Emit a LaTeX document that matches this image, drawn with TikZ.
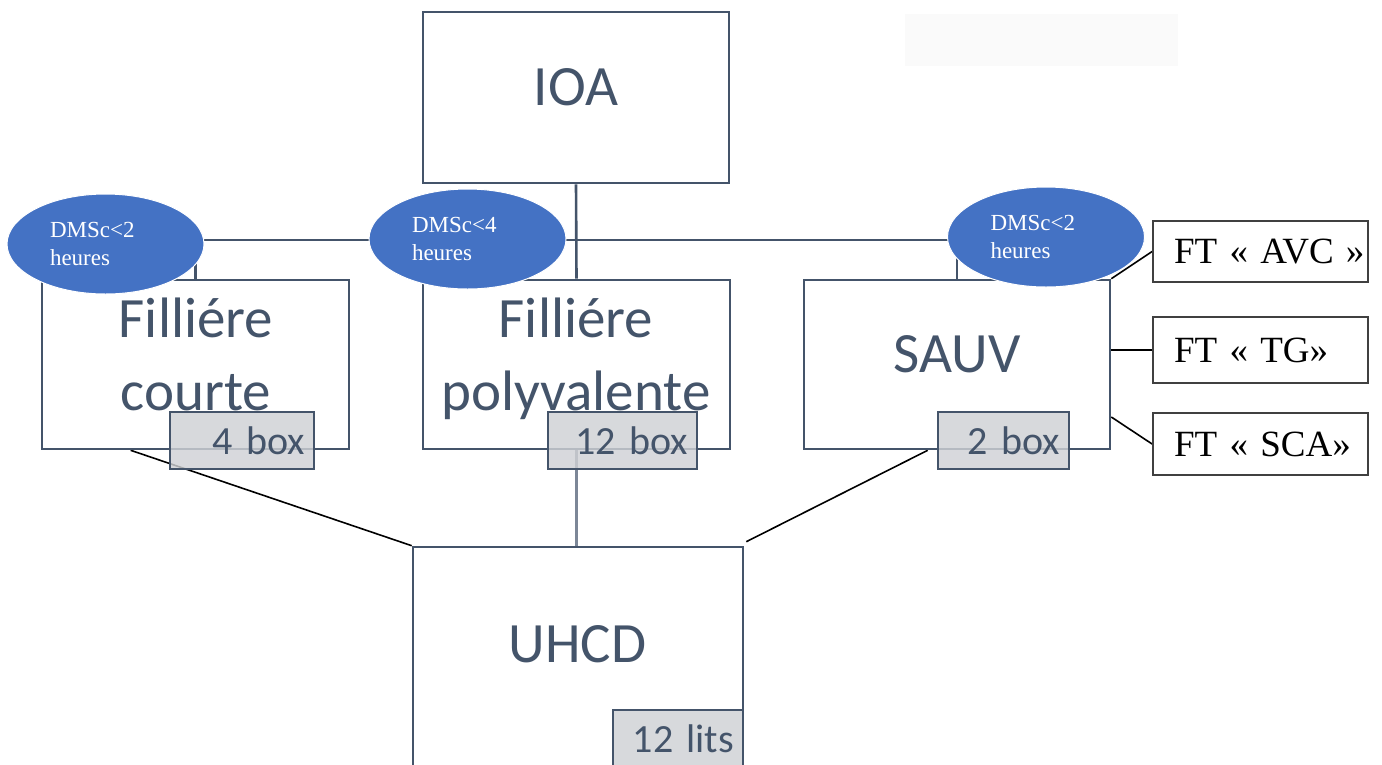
\documentclass[tikz,border=0pt]{standalone}
\usepackage{fontspec}
\setmainfont{Carlito}
\newfontfamily\timesfont{Liberation Serif}
\usepackage{tikz}
\usetikzlibrary{shapes.geometric,calc,backgrounds}
\usepackage{xcolor}
\definecolor{slate}{HTML}{44546A}
\definecolor{ovalblue}{HTML}{4472C4}
\definecolor{tagfill}{HTML}{CFD1D5}
\definecolor{ghost}{HTML}{FAFAFA}

\tikzset{
  unitbox/.style={draw=slate, line width=2.6pt, fill=white, inner sep=0pt},
  unittext/.style={text=slate, font=\fontsize{57}{73}\selectfont, align=center, text width=300pt, inner sep=0pt},
  tagbox/.style={draw=slate, line width=2.4pt, fill=tagfill, fill opacity=0.82, text opacity=1, text=slate,
    font=\fontsize{40}{48}\selectfont, align=right, minimum height=57pt, inner xsep=9pt, inner ysep=0pt},
  dmsoval/.style={ellipse, fill=ovalblue, draw=white, line width=1pt, text=white,
    font=\timesfont\fontsize{23}{28}\selectfont, minimum width=197pt, minimum height=100pt,
    align=left, text width=111pt, inner sep=0pt},
  ftbox/.style={draw=black!75, line width=1.8pt, fill=white, font=\timesfont\fontsize{37}{44}\selectfont,
    align=left, text width=173pt, inner xsep=21pt, inner ysep=0pt},
  bus/.style={draw=slate, line width=2.6pt},
  link/.style={draw=black, line width=1.6pt}
}

\begin{document}
\begin{tikzpicture}[x=1pt, y=-1pt]
  \useasboundingbox (0,0) rectangle (1382,764);
  \fill[ghost] (905,14) rectangle (1178,66);

  % units
  \node[unitbox, minimum width=306pt, minimum height=171pt] (ioa) at (576,97.5) {};
  \node[unitbox, minimum width=307pt, minimum height=169pt] (courte) at (195.5,364.5) {};
  \node[unitbox, minimum width=307pt, minimum height=169pt] (poly) at (576.5,364.5) {};
  \node[unitbox, minimum width=306pt, minimum height=169pt] (sauv) at (957,364.5) {};
  \node[unitbox, minimum width=330pt, minimum height=240pt] (uhcd) at (578,667) {};

  \node[unittext, anchor=base] (ioa-t) at (576,105) {IOA};
  \node[unittext, anchor=base] (courte-t) at (196,337) {Filliére\\courte};
  \node[unittext, anchor=base] (poly-t) at (576,337) {Filliére\\polyvalente};
  \node[unittext, anchor=base] (sauv-t) at (957,372) {SAUV};
  \node[unittext, anchor=base] (uhcd-t) at (577.5,662) {UHCD};

  % capacities
  \node[tagbox, text width=126pt] (box4) at (242,440.5) {4 box};
  \node[tagbox, text width=131pt] (box12) at (622.5,440.5) {12 box};
  \node[tagbox, text width=113pt] (box2) at (1003.5,440.5) {2 box};
  \node[tagbox, text width=112pt] (lits) at (678,738.5) {12 lits};

  % durations
  \node[dmsoval] (dms1) at (105.5,244) {DMSc<2\\heures};
  \node[dmsoval] (dms2) at (467.5,239) {DMSc<4\\heures};
  \node[dmsoval] (dms3) at (1046,237) {DMSc<2\\heures};

  % filieres
  \node[ftbox, minimum height=61pt] (avc) at (1260.5,251.5) {\mbox{FT « AVC »}};
  \node[ftbox, minimum height=66pt] (tg) at (1260.5,350) {\mbox{FT « TG»}};
  \node[ftbox, minimum height=62pt] (sca) at (1260.5,444) {\mbox{FT « SCA»}};

  \begin{scope}[on background layer]
    \coordinate (bus) at (0,240);
    \draw[bus] (ioa.south) -- (poly.north);
    \draw[bus] (dms1.center |- bus) -- (dms3.center |- bus);
    \draw[bus] (courte.north |- bus) -- (courte.north);
    \draw[bus] (sauv.north |- bus) -- (sauv.north);
    \draw[bus, draw=slate!70] (poly.south) -- (poly.south |- uhcd.north);
    \draw[link] ([xshift=90pt]courte.south west) -- (uhcd.north west);
    \draw[link] ([xshift=125pt]sauv.south west) -- ([xshift=2pt,yshift=4pt]uhcd.north east);
    \draw[link] (sauv.north east) -- (avc.west);
    \draw[link] (sauv.east |- tg.west) -- (tg.west);
    \draw[link] ([yshift=-52.5pt]sauv.east) -- (sca.west);
  \end{scope}
\end{tikzpicture}
\end{document}
